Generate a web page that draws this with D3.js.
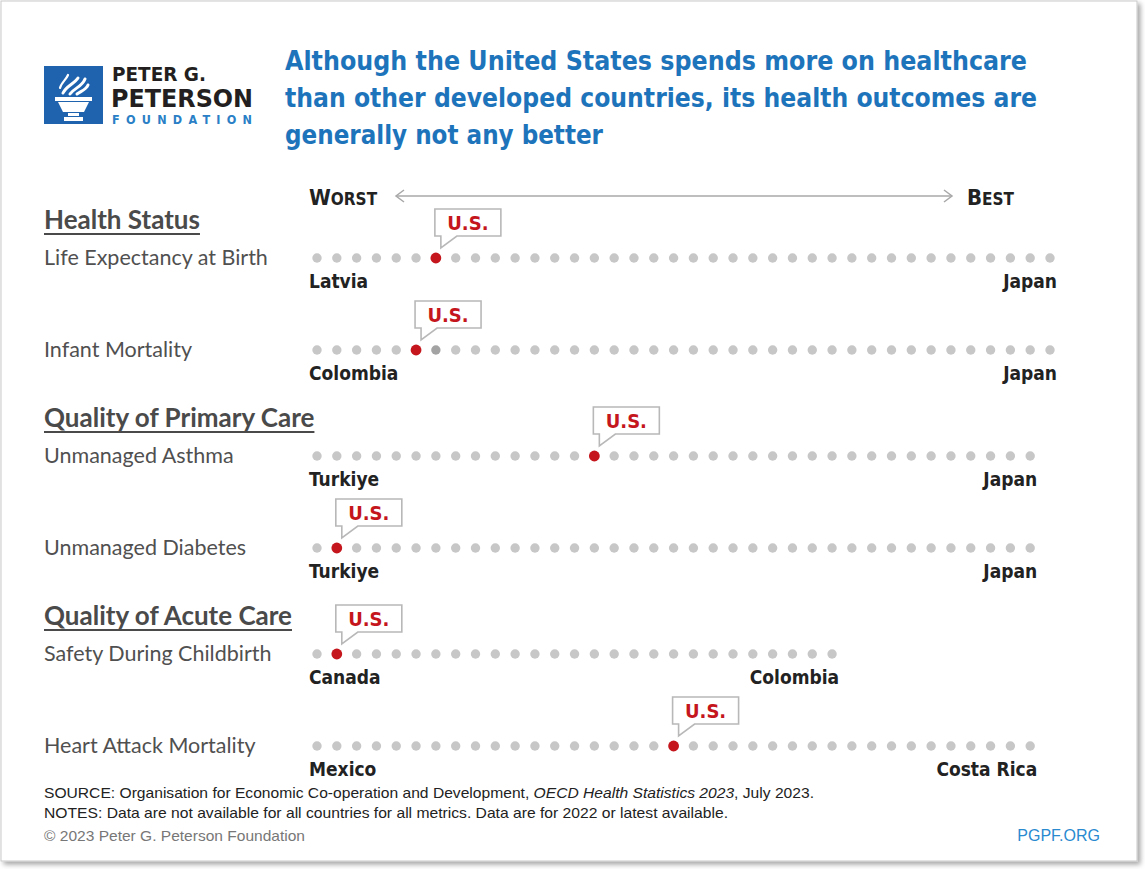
<!DOCTYPE html>
<html><head><meta charset="utf-8">
<script src="https://cdn.jsdelivr.net/npm/d3@7"></script>
<style>body{margin:0;background:#fff} svg{display:block}</style>
</head><body>
<svg id="chart" width="1145" height="869"></svg>
<script>
// ---------------- DATA ----------------
const titleLines = [
  "Although the United States spends more on healthcare",
  "than other developed countries, its health outcomes are",
  "generally not any better"
];
const sections = ["Health Status", "Quality of Primary Care", "Quality of Acute Care"];
const metrics = ["Life Expectancy at Birth", "Infant Mortality", "Unmanaged Asthma",
                 "Unmanaged Diabetes", "Safety During Childbirth", "Heart Attack Mortality"];
const metricSection = [0, 0, 1, 1, 2, 2];
const countryCount = [38, 38, 37, 37, 27, 37];       // countries ranked per metric
const usRank = [7, 6, 15, 2, 2, 19];                  // U.S. position counted from worst
const secondaryRank = [0, 7, 0, 0, 0, 0];             // slightly darker dot (0 = none)
const worstCountry = ["Latvia", "Colombia", "Turkiye", "Turkiye", "Canada", "Mexico"];
const bestCountry = ["Japan", "Japan", "Japan", "Japan", "Colombia", "Costa Rica"];
const scaleEnds = ["Worst", "Best"];
const usLabel = "U.S.";
const sourceNote = ["SOURCE: Organisation for Economic Co-operation and Development, ", "OECD Health Statistics 2023", ", July 2023."];
const notesNote = "NOTES: Data are not available for all countries for all metrics. Data are for 2022 or latest available.";
const copyright = "\u00A9 2023 Peter G. Peterson Foundation";
const siteLabel = "PGPF.ORG";
const logoLines = ["PETER G.", "PETERSON", "FOUNDATION"];

// ---------------- STYLE ----------------
const BLUE = "#1d74bb", RED = "#c4161c", GREY = "#c7c7c7", DARKGREY = "#a3a3a3", TXT = "#222", LABEL = "#505050";
const CONDENSED = "'DejaVu Sans Condensed', 'DejaVu Sans', sans-serif";
const NARROW = "'Liberation Sans Narrow', 'Liberation Sans', sans-serif";
const HUMAN = "Lato, 'Open Sans', sans-serif";

const svg = d3.select("#chart");
const W = 1145, H = 869;

// card with shadow
const defs = svg.append("defs");
const f = defs.append("filter").attr("id", "sh").attr("x", "-5%").attr("y", "-5%").attr("width", "110%").attr("height", "110%");
f.append("feDropShadow").attr("dx", 3).attr("dy", 3).attr("stdDeviation", 2.5).attr("flood-color", "#000").attr("flood-opacity", 0.35);
svg.append("rect").attr("x", 1).attr("y", 1).attr("width", W - 9).attr("height", H - 9)
  .attr("fill", "#fff").attr("stroke", "#c9c9c9").attr("filter", "url(#sh)");

// ---------------- LOGO ----------------
const logo = svg.append("g").attr("transform", "translate(44,66)");
logo.append("rect").attr("width", 59).attr("height", 58).attr("fill", "#1f63ae");
const torch = logo.append("g").attr("fill", "#fff").attr("stroke", "none");
torch.append("path").attr("d", "M11,31 H48 V35 H11 Z");
torch.append("path").attr("d", "M14,36 H45 L40,46 H19 Z");
torch.append("path").attr("d", "M24,47 H35 V50 H24 Z");
torch.append("path").attr("d", "M20,51 H39 V55 H20 Z");
const flame = logo.append("g").attr("fill", "none").attr("stroke", "#fff").attr("stroke-width", 3).attr("stroke-linecap", "round");
flame.append("path").attr("d", "M19,27 C22,20 30,18 34,12");
flame.append("path").attr("d", "M26,28 C30,22 38,21 41,13");
flame.append("path").attr("d", "M33,28 C37,25 42,24 44,19");
flame.append("path").attr("d", "M16,22 C17,17 22,14 24,9").attr("stroke-width", 2.2);
svg.append("text").attr("x", 112).attr("y", 81).text(logoLines[0])
  .attr("font-family", CONDENSED).attr("font-weight", "bold").attr("font-size", 19)
  .attr("fill", "#231f20").attr("textLength", 94).attr("lengthAdjust", "spacingAndGlyphs");
svg.append("text").attr("x", 111).attr("y", 106.5).text(logoLines[1])
  .attr("font-family", CONDENSED).attr("font-weight", "bold").attr("font-size", 25)
  .attr("fill", "#231f20").attr("textLength", 142).attr("lengthAdjust", "spacingAndGlyphs");
svg.append("text").attr("x", 112).attr("y", 124).text(logoLines[2])
  .attr("font-family", CONDENSED).attr("font-weight", "bold").attr("font-size", 12.5)
  .attr("fill", "#2a7fc6").attr("textLength", 140).attr("lengthAdjust", "spacing");

// ---------------- TITLE ----------------
const titleWidths = [742, 752, 318];
svg.append("g").selectAll("text").data(titleLines).join("text")
  .attr("x", 285).attr("y", (d, i) => 70 + i * 37)
  .attr("font-family", CONDENSED).attr("font-weight", "bold").attr("font-size", 27)
  .attr("fill", BLUE).text(d => d)
  .attr("textLength", (d, i) => titleWidths[i]).attr("lengthAdjust", "spacingAndGlyphs");

// ---------------- SCALE ----------------
const maxCount = d3.max(countryCount);
const x = d3.scaleLinear().domain([1, maxCount]).range([317, 1050]);

// Worst / Best header with arrow
function smallCaps(sel, word, xPos, anchor) {
  const t = sel.append("text").attr("x", xPos).attr("y", 205)
    .attr("font-family", CONDENSED).attr("font-weight", "bold").attr("fill", TXT)
    .attr("text-anchor", anchor);
  t.append("tspan").attr("font-size", 22).text(word[0].toUpperCase());
  t.append("tspan").attr("font-size", 17).text(word.slice(1).toUpperCase());
  return t;
}
smallCaps(svg, scaleEnds[0], 309, "start");
smallCaps(svg, scaleEnds[1], 967, "start");
const arrowY = 196, ax0 = 396, ax1 = 952;
const arr = svg.append("g").attr("stroke", "#a8a8a8").attr("stroke-width", 1.5).attr("fill", "none");
arr.append("line").attr("x1", ax0).attr("x2", ax1).attr("y1", arrowY).attr("y2", arrowY);
arr.append("path").attr("d", `M${ax0 + 8},${arrowY - 6} L${ax0},${arrowY} L${ax0 + 8},${arrowY + 6}`);
arr.append("path").attr("d", `M${ax1 - 8},${arrowY - 6} L${ax1},${arrowY} L${ax1 - 8},${arrowY + 6}`);

// ---------------- ROW LAYOUT ----------------
const headerStart = 229, headerToRow = 29, rowGap = 92, rowToHeader = 77;
let cursor = headerStart, prevSection = -1;
const rowY = [], headerY = [];
metrics.forEach((m, i) => {
  const s = metricSection[i];
  if (s !== prevSection) {
    if (prevSection >= 0) cursor = rowY[i - 1] + rowToHeader;
    headerY[s] = cursor;
    rowY[i] = cursor + headerToRow;
    prevSection = s;
  } else {
    rowY[i] = rowY[i - 1] + rowGap;
  }
});

// section headers
sections.forEach((s, i) => {
  const t = svg.append("text").attr("x", 44).attr("y", headerY[i]).text(s)
    .attr("font-family", HUMAN).attr("font-weight", "bold").attr("font-size", 26)
    .attr("fill", "#4a4a4a");
  const w = t.node().getComputedTextLength();
  svg.append("line").attr("x1", 44).attr("x2", 44 + w).attr("y1", headerY[i] + 5).attr("y2", headerY[i] + 5)
    .attr("stroke", "#4a4a4a").attr("stroke-width", 1.8);
});

// rows
metrics.forEach((m, i) => {
  const y = rowY[i];
  const g = svg.append("g");
  g.append("text").attr("x", 44).attr("y", y + 7).text(m)
    .attr("font-family", HUMAN).attr("font-size", 21.5).attr("fill", LABEL);
  const ranks = d3.range(1, countryCount[i] + 1);
  g.selectAll("circle.dot").data(ranks).join("circle").attr("class", "dot")
    .attr("cx", d => x(d)).attr("cy", y)
    .attr("r", d => d === usRank[i] ? 5.4 : 4.7)
    .attr("fill", d => d === usRank[i] ? RED : (d === secondaryRank[i] ? DARKGREY : GREY));
  g.append("text").attr("x", x(1) - 8).attr("y", y + 30).text(worstCountry[i])
    .attr("font-family", CONDENSED).attr("font-weight", "bold").attr("font-size", 19).attr("fill", TXT);
  g.append("text").attr("x", x(countryCount[i]) + 7).attr("y", y + 30).text(bestCountry[i])
    .attr("text-anchor", "end")
    .attr("font-family", CONDENSED).attr("font-weight", "bold").attr("font-size", 19).attr("fill", TXT);
  // U.S. callout
  const ux = x(usRank[i]) - 1, top = y - 49, bw = 66, bh = 27, bottom = top + bh, tip = y - 10;
  g.append("path")
    .attr("d", `M${ux},${top} H${ux + bw} V${bottom} H${ux + 22} L${ux + 6},${tip} V${bottom} H${ux} Z`)
    .attr("fill", "#fff").attr("stroke", "#b8b8b8").attr("stroke-width", 1.6);
  g.append("text").attr("x", ux + bw / 2).attr("y", top + 21).text(usLabel)
    .attr("text-anchor", "middle")
    .attr("font-family", CONDENSED).attr("font-weight", "bold").attr("font-size", 20).attr("fill", RED);
});

// ---------------- FOOTER ----------------
const src = svg.append("text").attr("x", 44).attr("y", 798)
  .attr("font-family", NARROW).attr("font-size", 15).attr("fill", TXT)
  .attr("textLength", 770).attr("lengthAdjust", "spacingAndGlyphs");
src.append("tspan").text(sourceNote[0]);
src.append("tspan").attr("font-style", "italic").text(sourceNote[1]);
src.append("tspan").text(sourceNote[2]);
svg.append("text").attr("x", 44).attr("y", 818).text(notesNote)
  .attr("font-family", NARROW).attr("font-size", 15).attr("fill", TXT)
  .attr("textLength", 684).attr("lengthAdjust", "spacingAndGlyphs");
svg.append("text").attr("x", 44).attr("y", 841).text(copyright)
  .attr("font-family", NARROW).attr("font-size", 15).attr("fill", "#777")
  .attr("textLength", 261).attr("lengthAdjust", "spacingAndGlyphs");
svg.append("text").attr("x", 1100).attr("y", 841).text(siteLabel)
  .attr("text-anchor", "end")
  .attr("font-family", NARROW).attr("font-size", 16).attr("fill", "#2a8ad0");
</script>
</body></html>
